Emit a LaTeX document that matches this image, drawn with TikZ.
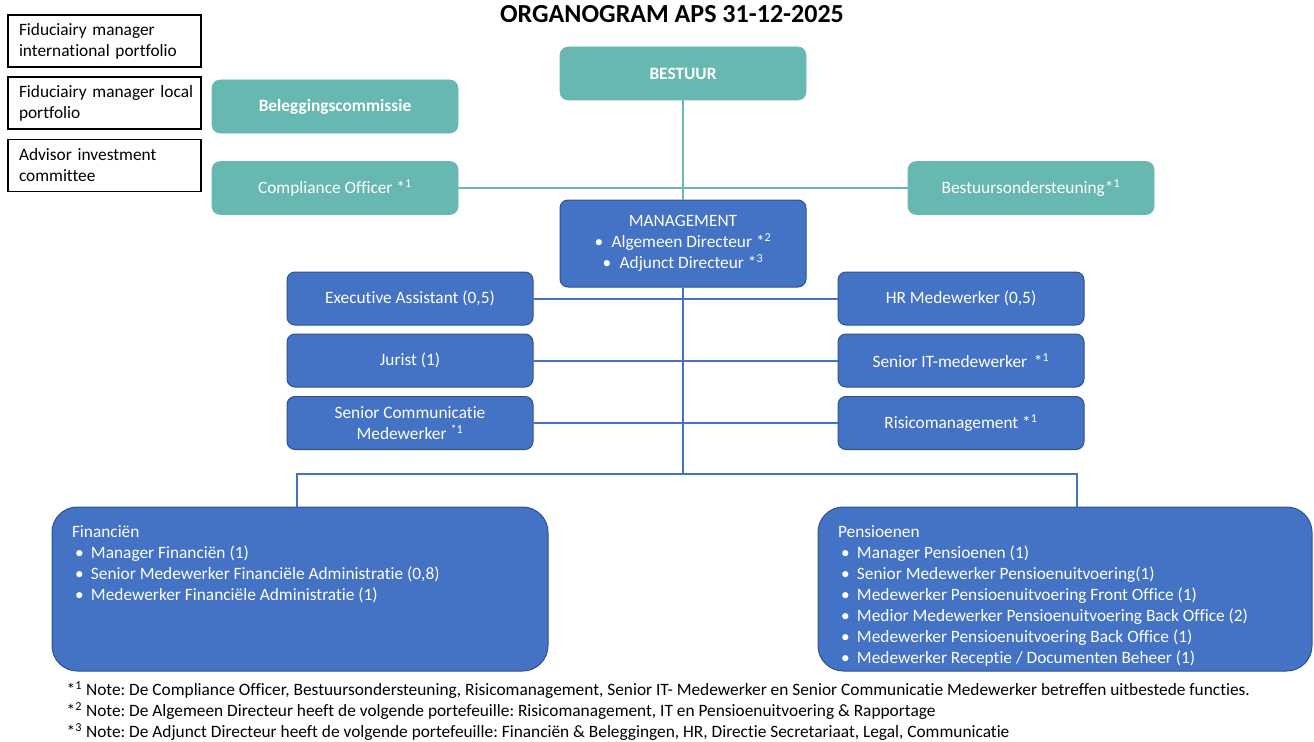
\documentclass[tikz,border=0pt]{standalone}
\usepackage{fontspec}
\setmainfont{Carlito}[Ligatures=NoCommon]
\usetikzlibrary{positioning}
\definecolor{colteal}{HTML}{68B8B2}
\definecolor{colblue}{HTML}{4472C4}
\definecolor{colbdark}{HTML}{2F528F}
\newcommand{\boxfont}{\fontsize{13}{15.75}\selectfont}
\newcommand{\bul}{\hspace*{2.25pt}\makebox[12pt][l]{\textbullet}}
\frenchspacing

\begin{document}
\begin{tikzpicture}[x=0.75pt, y=-0.75pt, font=\boxfont]
    \tikzstyle{wbox} += [draw=black, line width=1pt, minimum height=39pt,
      text width=128.25pt, inner xsep=8.25pt, align=left];
    \tikzstyle{tbox} += [draw=colteal, fill=colteal, text=white, rounded corners=6pt,
      minimum width=184.5pt, minimum height=39.75pt, align=center];
    \tikzstyle{bbox} += [draw=colbdark, line width=0.75pt, fill=colblue, text=white,
      rounded corners=6pt, minimum width=184.5pt, minimum height=39.75pt, align=center];
    \tikzstyle{bigbox} += [bbox, rounded corners=19pt, inner ysep=0pt, inner xsep=15pt];
    \useasboundingbox (0,0) rectangle (1314,742);

    \node (title) at (672,14) [font=\fontsize{19.5}{23}\selectfont\bfseries] {ORGANOGRAM APS 31-12-2025};

    \node (fm_int) at (104.5, 41)   [wbox] {\mbox{Fiduciairy manager}\\\mbox{international portfolio}};
    \node (fm_loc) at (104.5,103)   [wbox] {\mbox{Fiduciairy manager local}\\portfolio};
    \node (adv)    at (104.5,165.5) [wbox] {\mbox{Advisor investment}\\committee};

    \node (bestuur) at ( 683, 73.5) [tbox, font=\boxfont\bfseries] {BESTUUR};
    \node (beleg)   at ( 335,106.5) [tbox, font=\boxfont\bfseries] {Beleggingscommissie};
    \node (compl)   at ( 335,188)   [tbox] {Compliance Officer *\textsuperscript{1}};
    \node (bsond)   at (1031,188)   [tbox] {Bestuursondersteuning*\textsuperscript{1}};

    \node (mgmt) at (683,243.5) [bbox, minimum height=65.25pt] {MANAGEMENT\\
      \makebox[12.75pt][l]{\textbullet}Algemeen Directeur *\textsuperscript{2}\\
      \makebox[12.75pt][l]{\textbullet}Adjunct Directeur *\textsuperscript{3}};

    \node (exec)   at (410,298.5) [bbox] {Executive Assistant (0,5)};
    \node (jurist) at (410,360.5) [bbox] {Jurist (1)};
    \node (scom)   at (410,423)   [bbox] {Senior Communicatie\\Medewerker \textsuperscript{*1}};
    \node (hr)     at (961,298.5) [bbox] {HR Medewerker (0,5)};
    \node (sit)    at (961,360.5) [bbox] {Senior IT-medewerker \,*\textsuperscript{1}};
    \node (risk)   at (961,423)   [bbox] {Risicomanagement *\textsuperscript{1}};

    \node (fin) at (300,589) [bigbox] {\parbox[c][123pt][t]{342pt}{\vspace*{14pt}\raggedright
      Financiën\\
      \bul Manager Financiën (1)\\
      \bul Senior Medewerker Financiële Administratie (0,8)\\
      \bul Medewerker Financiële Administratie (1)}};
    \node (pens) at (1065,589) [bigbox] {\parbox[c][123pt][t]{340.5pt}{\vspace*{14pt}\raggedright
      Pensioenen\\
      \bul Manager Pensioenen (1)\\
      \bul Senior Medewerker Pensioenuitvoering(1)\\
      \bul Medewerker Pensioenuitvoering Front Office (1)\\
      \bul Medior Medewerker Pensioenuitvoering Back Office (2)\\
      \bul Medewerker Pensioenuitvoering Back Office (1)\\
      \bul Medewerker Receptie / Documenten Beheer (1)}};

    \coordinate (hub)   at ( 683,474);
    \coordinate (hub_l) at ( 297,474);
    \coordinate (hub_r) at (1077,474);

    \begin{scope}[colteal, line width=1.5pt]
      \draw (bestuur) -- (mgmt);
      \draw (compl) -- (bsond);
    \end{scope}
    \begin{scope}[colblue, line width=1.5pt]
      \draw (mgmt) -- (hub);
      \draw (exec) -- (hr);
      \draw (jurist) -- (sit);
      \draw (scom) -- (risk);
      \draw (hub_l |- fin.north) -- (hub_l) -- (hub_r) -- (hub_r |- pens.north);
    \end{scope}

    \node (note1) at (62,690) [anchor=west] {*\textsuperscript{1} Note: De Compliance Officer, Bestuursondersteuning, Risicomanagement, Senior IT- Medewerker en Senior Communicatie Medewerker betreffen uitbestede functies.};
    \node (note2) at (62,711) [anchor=west] {*\textsuperscript{2} Note: De Algemeen Directeur heeft de volgende portefeuille: Risicomanagement, IT en Pensioenuitvoering \& Rapportage};
    \node (note3) at (62,732) [anchor=west] {*\textsuperscript{3} Note: De Adjunct Directeur heeft de volgende portefeuille: Financiën \& Beleggingen, HR, Directie Secretariaat, Legal, Communicatie};
  \end{tikzpicture}
\end{document}
